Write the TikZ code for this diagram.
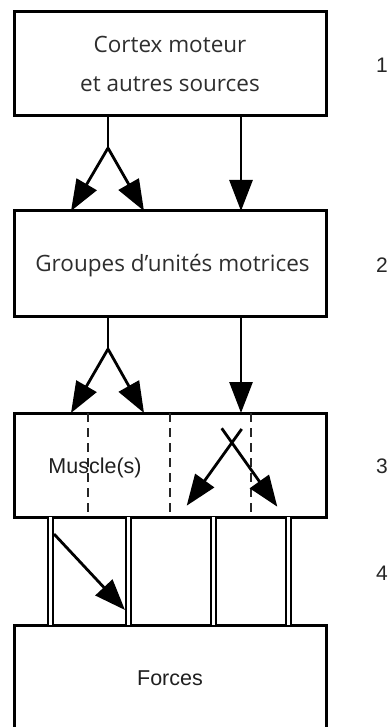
\documentclass[tikz,border=0pt]{standalone}
\usepackage{fontspec}
\setmainfont{Open Sans}
\newfontfamily\helv{Liberation Sans}
\usetikzlibrary{arrows.meta}
\begin{document}
\begin{tikzpicture}[x=1pt,y=-1pt,
  box/.style={draw, line width=3pt, minimum width=312pt, inner sep=0pt, outer sep=0pt},
  title/.style={font=\fontsize{22.5}{39}\selectfont, text=black!82, align=center},
  plain/.style={font=\helv\fontsize{21.5}{24}\selectfont, text=black!88},
  num/.style={font=\helv\fontsize{21}{24}\selectfont, text=black!85},
  link/.style={line width=2.8pt},
  tip/.style={-{Triangle[length=31pt,width=23pt]}},
  pillar/.style={double, double distance=3pt, line width=2pt},
  split/.style={line width=1.4pt, black!85, dash pattern=on 9pt off 6pt}]
\useasboundingbox (0,0) rectangle (390,727);
\clip (0,0) rectangle (390,727);

% the four stages
\node[box, minimum height=104pt, title] (cortex) at (170,64) {Cortex moteur\\et autres sources};
\node[box, minimum height=105pt] (groupes) at (170,263.5) {};
\node[title] (grtxt) at (172.5,266) {Groupes d’unités motrices};
\node[box, minimum height=104pt] (muscle) at (170,465) {};
\node[plain] (mtxt) at (95,468) {Muscle(s)};
\node[box, minimum height=106pt, plain] (forces) at (170,678) {Forces};

% stage numbers
\node[num] (n1) at (382,65) {1};
\node[num] (n2) at (382,265) {2};
\node[num] (n3) at (382,466) {3};
\node[num] (n4) at (382,573) {4};

% x positions of the connectors
\coordinate (xs) at (108,0);
\coordinate (xl) at (71,0);
\coordinate (xr) at (144,0);
\coordinate (xd) at (241,0);
\coordinate (b1) at (108,148);
\coordinate (b2) at (108,349);

% cortex -> groupes
\draw[link] (cortex.south -| xs) -- (b1);
\draw[link, tip] (b1) -- (groupes.north -| xl);
\draw[link, tip] (b1) -- (groupes.north -| xr);
\draw[link, tip] (cortex.south -| xd) -- (groupes.north -| xd);

% groupes -> muscle
\draw[link] (groupes.south -| xs) -- (b2);
\draw[link, tip] (b2) -- (muscle.north -| xl);
\draw[link, tip] (b2) -- (muscle.north -| xr);
\draw[link, tip] (groupes.south -| xd) -- (muscle.north -| xd);

% dashed partitions of the muscle box
\foreach \x [count=\i] in {88,170,251} {
  \coordinate (d\i) at (\x,0);
  \draw[split] (muscle.north -| d\i) -- (muscle.south -| d\i);
}

% crossing arrows inside the muscle box
\coordinate (ca) at (241.7,429);
\coordinate (cb) at (186.7,505.7);
\coordinate (cc) at (221.7,428.3);
\coordinate (cd) at (277.3,506.7);
\draw[link, tip] (ca) -- (cb);
\draw[link, tip] (cc) -- (cd);

% tendons between muscle and forces
\foreach \x [count=\i] in {50.5,128,213,288.5} {
  \coordinate (p\i) at (\x,0);
  \draw[pillar] (muscle.south -| p\i) -- (forces.north -| p\i);
}

% transmitted force arrow
\coordinate (ta) at (54,534);
\coordinate (tb) at (125,610);
\draw[link, tip] (ta) -- (tb);
\end{tikzpicture}
\end{document}
